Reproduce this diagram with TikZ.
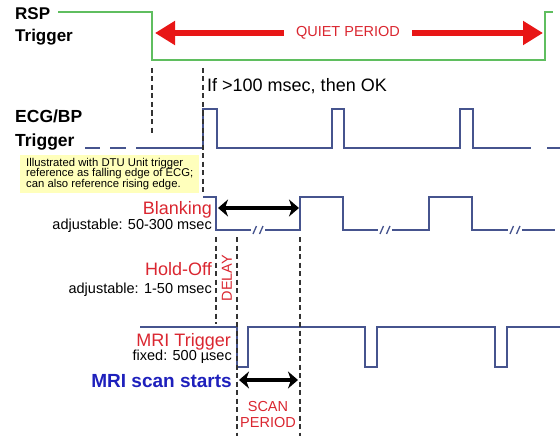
\documentclass[tikz,border=0pt]{standalone}
\usepackage{fontspec}
\setmainfont{Liberation Sans}
\usetikzlibrary{arrows.meta,positioning}

\definecolor{sigblue}{RGB}{70,84,142}
\definecolor{rspgreen}{RGB}{95,190,95}
\definecolor{quietred}{RGB}{232,22,22}
\definecolor{lblred}{RGB}{218,38,48}
\definecolor{scanblue}{RGB}{30,32,188}
\definecolor{notebg}{RGB}{255,255,188}

\begin{document}
\begin{tikzpicture}[
  x=1pt, y=-1pt,
  sig/.style={draw=sigblue, line width=1.4pt},
  rsp/.style={draw=rspgreen, line width=1.3pt},
  guide/.style={draw=black!80, line width=1.2pt, dash pattern=on 5pt off 3.5pt},
  span/.style={{Stealth[length=10pt,width=17pt,inset=3pt]}-{Stealth[length=10pt,width=17pt,inset=3pt]}, line width=4pt},
  quietarrow/.style={-{Triangle[length=20pt,width=23pt]}, draw=quietred, line width=5.5pt},
  title/.style={font=\fontsize{17}{22}\selectfont\bfseries, align=left, anchor=west, inner sep=0pt},
  param/.style={font=\fontsize{18}{20}\selectfont, text=lblred, anchor=base east, inner sep=0pt},
  spec/.style={font=\fontsize{14.5}{16}\selectfont, anchor=base east, inner sep=0pt},
  tag/.style={font=\fontsize{14.5}{16}\selectfont, text=lblred, inner sep=0pt, align=center},
  brk/.pic={
    \fill[white] (-7,-4) rectangle (7,4);
    \draw[sig, line width=1.3pt] (-5,4) -- (-1.5,-4) (1.5,4) -- (5,-4);
  }
]
\useasboundingbox (0,0) rectangle (560,436);

\node[title] (rsp) at (15,26) {RSP\\Trigger};
\node[title, font=\fontsize{17.5}{24}\selectfont\bfseries] (ecg) at (15,130) {ECG/BP\\Trigger};
\node[anchor=west, inner sep=0pt, font=\fontsize{18}{20}\selectfont] (cond) at (207,86) {If >100 msec, then OK};
\node[anchor=north west, fill=notebg, align=left, inner xsep=6pt, inner ysep=3pt,
      font=\fontsize{11.3}{10.6}\selectfont] (note) at (20,155)
  {Illustrated with DTU Unit trigger\\reference as falling edge of ECG;\\can also reference rising edge.};

\node[param] (blank) at (212,214) {Blanking};
\node[spec] (blankadj) at (212,229.5) {adjustable: 50-300 msec};
\node[param] (hold) at (212,275) {Hold-Off};
\node[spec] (holdadj) at (212,293) {adjustable: 1-50 msec};
\node[tag, rotate=90] (delay) at (227,278) {DELAY};
\node[param] (mri) at (231,346) {MRI Trigger};
\node[spec] (mriadj) at (232,360) {fixed: 500 µsec};
\node[anchor=base east, inner sep=0pt, font=\fontsize{19}{20}\selectfont\bfseries, text=scanblue] (start) at (232,387) {MRI scan starts};
\node[tag, font=\fontsize{14.5}{16}\selectfont] (scan) at (268,415) {SCAN\\PERIOD};
\node[tag, inner xsep=12pt] (quiet) at (348,33) {QUIET PERIOD};

\draw[rsp] (58,12) -- (152,12) -- (152,60) -- (545,60) -- (545,12) -- (553,12);

\draw[sig] (85,148) -- (100,148) (110,148) -- (126,148);
\draw[sig] (136,148) -- (203,148) -- (203,109) -- (217,109) -- (217,148) -- (332,148) -- (332,109)
  -- (344,109) -- (344,148) -- (460,148) -- (460,109) -- (473,109) -- (473,148) -- (531,148);
\draw[sig] (547,148) -- (560,148);

\draw[sig] (203,197) -- (216,197) -- (216,230) -- (300,230) -- (300,197) -- (343,197) -- (343,230)
  -- (429,230) -- (429,197) -- (472,197) -- (472,230) -- (555,230);
\pic at (258,230) {brk};
\pic at (385,230) {brk};
\pic at (515,230) {brk};

\draw[sig] (140,327) -- (237,327) -- (237,367) -- (248,367) -- (248,327) -- (365,327) -- (365,367)
  -- (377,367) -- (377,327) -- (495,327) -- (495,367) -- (507,367) -- (507,327) -- (560,327);

\draw[guide] (152,68) -- (152,135);
\draw[guide] (203,68) -- (203,195);
\draw[guide] (216,237) -- (216,324);
\draw[guide] (237,237) -- (237,436);
\draw[guide] (300,237) -- (300,436);

\coordinate (qL) at (155,33);
\coordinate (qR) at (543,33);
\coordinate (bL) at (218,208);
\coordinate (bR) at (299,208);
\coordinate (sL) at (239,380);
\coordinate (sR) at (298,380);

\draw[quietarrow] (quiet.west) -- (qL);
\draw[quietarrow] (quiet.east) -- (qR);
\draw[span] (bL) -- (bR);
\draw[span] (sL) -- (sR);
\end{tikzpicture}
\end{document}
